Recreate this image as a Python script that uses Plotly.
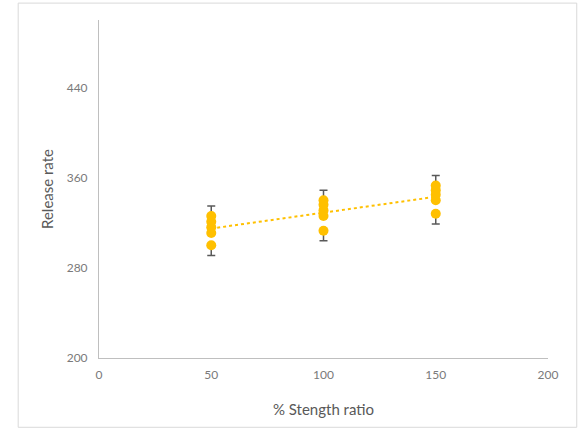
import numpy as np
import plotly.graph_objects as go

# Data
strength_ratio = [50, 50, 50, 50, 50,
                  100, 100, 100, 100, 100,
                  150, 150, 150, 150, 150]
release_rate = [326, 321, 316, 311, 300,
                340, 336, 331, 326, 313,
                353, 349, 345, 340, 328]
error_plus = [9, 0, 0, 0, 0,
              9, 0, 0, 0, 0,
              9, 0, 0, 0, 0]
error_minus = [0, 0, 0, 0, 9,
               0, 0, 0, 0, 9,
               0, 0, 0, 0, 9]

x_ticks = [0, 50, 100, 150, 200]
y_ticks = [200, 280, 360, 440]

GOLD = "#FFC000"
GREY_TEXT = "#595959"
TICK_TEXT = "#7a7a7a"

fig = go.Figure()

fig.add_trace(go.Scatter(
    x=strength_ratio, y=release_rate, mode="markers",
    marker=dict(color=GOLD, size=10),
    error_y=dict(type="data", symmetric=False, array=error_plus,
                 arrayminus=error_minus, visible=True,
                 color="#595959", thickness=1.5, width=4),
    showlegend=False,
))

# Linear trendline (least squares fit of the data)
slope, intercept = np.polyfit(strength_ratio, release_rate, 1)
tx = [min(strength_ratio), max(strength_ratio)]
ty = [slope * v + intercept for v in tx]
fig.add_trace(go.Scatter(
    x=tx, y=ty, mode="lines",
    line=dict(color=GOLD, width=2, dash="dot"),
    showlegend=False, hoverinfo="skip",
))

font_family = "Lato, Open Sans, sans-serif"

fig.update_layout(
    width=579, height=431,
    margin=dict(l=99, r=31, t=20, b=73),
    paper_bgcolor="white", plot_bgcolor="white",
    font=dict(family=font_family, color=GREY_TEXT, size=12),
    xaxis=dict(
        range=[0, 200], tickvals=x_ticks, showgrid=False, zeroline=False,
        showline=True, linecolor="#BFBFBF", linewidth=1,
        ticks="", ticklabelstandoff=6,
        tickfont=dict(size=12, color=TICK_TEXT),
        title=dict(text="% Stength ratio", font=dict(size=15, color=GREY_TEXT), standoff=23),
    ),
    yaxis=dict(
        range=[200, 500], tickvals=y_ticks, showgrid=False, zeroline=False,
        showline=True, linecolor="#BFBFBF", linewidth=1,
        ticks="", ticklabelstandoff=8,
        tickfont=dict(size=12, color=TICK_TEXT),
        title=dict(text="Release rate", font=dict(size=15, color=GREY_TEXT), standoff=9),
    ),
    shapes=[dict(type="rect", xref="paper", yref="paper",
                 x0=-0.18, x1=1.064, y0=-0.205, y1=1.05,
                 line=dict(color="#D9D9D9", width=1), fillcolor="rgba(0,0,0,0)",
                 layer="below")],
)

fig.write_html("out.html", config={"displayModeBar": False},
               post_script="document.body.style.margin='0';")
